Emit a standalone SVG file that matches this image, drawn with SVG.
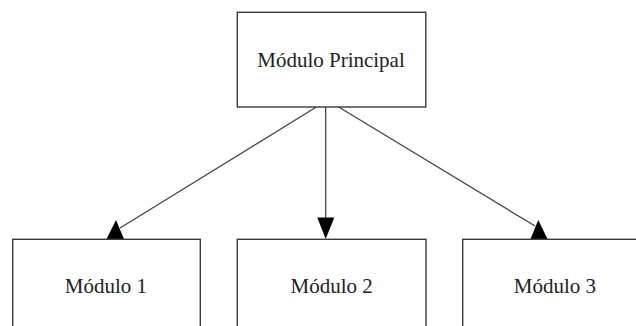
<svg xmlns="http://www.w3.org/2000/svg" width="636" height="326" viewBox="0 0 636 326">
<style>
.box{fill:#fff;stroke:#3a3a3a;stroke-width:1.4}
.lbl{font-family:"Liberation Serif","DejaVu Serif",serif;font-size:21px;fill:#222;text-anchor:middle}
.edge{stroke:#444;stroke-width:1.3;fill:none}
.head{fill:#000}
</style>
<rect width="636" height="326" fill="#fff"/>
<g id="connectors">
<line class="edge" x1="318" y1="106" x2="120" y2="228"/>
<polygon class="head" points="116,220 106.5,239 124,239"/>
<line class="edge" x1="325.7" y1="107" x2="325.7" y2="218"/>
<polygon class="head" points="317.3,217.5 334.3,217.5 325.7,239"/>
<line class="edge" x1="337" y1="106" x2="535" y2="226"/>
<polygon class="head" points="538.3,220 530.5,239 547.5,239"/>
</g>
<g id="principal">
<rect class="box" x="237.3" y="12.3" width="188.5" height="94.7"/>
<text class="lbl" x="331" y="67">Módulo Principal</text>
</g>
<g id="modulo1">
<rect class="box" x="12.7" y="239.3" width="187.6" height="100"/>
<text class="lbl" x="106" y="293">Módulo 1</text>
</g>
<g id="modulo2">
<rect class="box" x="237.3" y="239.3" width="188.7" height="100"/>
<text class="lbl" x="331.7" y="293">Módulo 2</text>
</g>
<g id="modulo3">
<rect class="box" x="462.7" y="239.3" width="186" height="100"/>
<text class="lbl" x="555" y="293">Módulo 3</text>
</g>
</svg>
